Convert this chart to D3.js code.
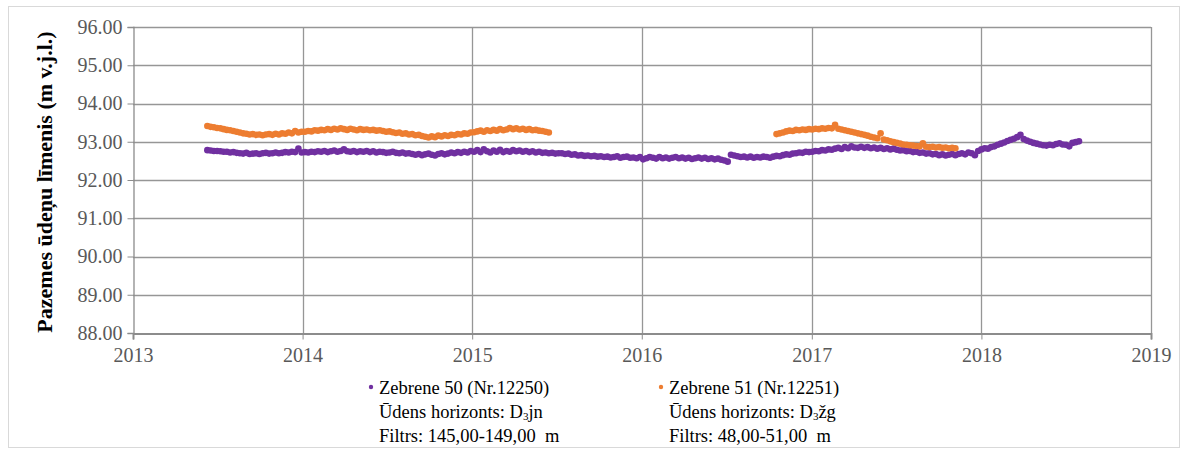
<!DOCTYPE html>
<html>
<head>
<meta charset="utf-8">
<script src="https://cdn.jsdelivr.net/npm/d3@7"></script>
<style>
  html, body { margin: 0; padding: 0; background: #fff; }
  svg { display: block; font-family: 'Liberation Serif', 'Times New Roman', serif; }
  svg text { font-family: 'Liberation Serif', 'Times New Roman', serif; }
</style>
</head>
<body>
<svg id="chart" width="1187" height="450"></svg>
<script>
// Groundwater level observations, weekly readings (m above sea level)
const zebrene50Start = "2013-06-10";
const zebrene50Levels = [
  // 2013
  92.78, 92.77, 92.76, 92.76, 92.75, 92.74, 92.74, 92.72, 92.73, 92.71, 92.70, 92.69, 92.71, 92.68, 92.69,
  92.70, 92.68, 92.70, 92.71, 92.69, 92.70, 92.72, 92.70, 92.71, 92.73, 92.72, 92.74, 92.73, 92.82, 92.72,
  // 2014
  92.73, 92.72, 92.74, 92.73, 92.75, 92.74, 92.76, 92.73, 92.75, 92.77, 92.74, 92.76, 92.80, 92.75, 92.74,
  92.76, 92.73, 92.75, 92.74, 92.76, 92.73, 92.75, 92.72, 92.74, 92.73, 92.71, 92.72, 92.74, 92.71, 92.70,
  92.72, 92.69, 92.70, 92.68, 92.66, 92.68, 92.65, 92.67, 92.69, 92.66, 92.64, 92.68, 92.70, 92.67, 92.69,
  92.72, 92.70, 92.73, 92.71, 92.74, 92.72, 92.76,
  // 2015
  92.74, 92.78, 92.73, 92.80, 92.75, 92.72, 92.77, 92.74, 92.79, 92.73, 92.76, 92.74, 92.78, 92.75, 92.77,
  92.74, 92.76, 92.73, 92.75, 92.72, 92.74, 92.71, 92.72, 92.70, 92.71, 92.69, 92.70, 92.70, 92.68, 92.69,
  92.66, 92.67, 92.64, 92.65, 92.63, 92.64, 92.62, 92.63, 92.61, 92.62, 92.60, 92.61, 92.59, 92.60, 92.62,
  92.58, 92.60, 92.61, 92.58, 92.59, 92.57, 92.60,
  // 2016
  92.54, 92.57, 92.60, 92.58, 92.56, 92.60, 92.57, 92.59, 92.56, 92.58, 92.60, 92.57, 92.59, 92.56, 92.58,
  92.55, 92.57, 92.59, 92.56, 92.58, 92.55, 92.57, 92.54, 92.56, 92.53, 92.51, 92.48, 92.66, 92.64, 92.62,
  92.60, 92.61, 92.59, 92.61, 92.58, 92.60, 92.59, 92.61, 92.60, 92.58, 92.61, 92.63, 92.62, 92.65, 92.67,
  92.66, 92.69, 92.70, 92.72, 92.71, 92.74, 92.73,
  // 2017
  92.74, 92.76, 92.75, 92.78, 92.77, 92.80, 92.79, 92.82, 92.84, 92.81, 92.86, 92.83, 92.88, 92.85, 92.84,
  92.87, 92.84, 92.86, 92.83, 92.85, 92.82, 92.84, 92.81, 92.83, 92.80, 92.82, 92.79, 92.77, 92.78, 92.75,
  92.76, 92.73, 92.74, 92.71, 92.72, 92.69, 92.70, 92.67, 92.68, 92.65, 92.67, 92.64, 92.66, 92.68, 92.65,
  92.68, 92.70, 92.67, 92.72, 92.70, 92.65, 92.76,
  // 2018
  92.80, 92.83, 92.82, 92.86, 92.88, 92.92, 92.95, 92.98, 93.02, 93.05, 93.08, 93.12, 93.18, 93.07, 93.03,
  93.00, 92.97, 92.95, 92.93, 92.91, 92.90, 92.92, 92.91, 92.94, 92.96, 92.93, 92.92, 92.88, 92.97, 92.99,
  93.01
];

const zebrene51StartA = "2013-06-10";
const zebrene51LevelsA = [
  // 2013
  93.41, 93.39, 93.38, 93.36, 93.35, 93.33, 93.31, 93.30, 93.28, 93.26, 93.24, 93.22, 93.21, 93.19, 93.20,
  93.18, 93.19, 93.17, 93.19, 93.20, 93.18, 93.21, 93.19, 93.22, 93.21, 93.24, 93.22, 93.28, 93.24, 93.26,
  // 2014
  93.26, 93.28, 93.27, 93.30, 93.29, 93.31, 93.30, 93.33, 93.31, 93.34, 93.32, 93.35, 93.33, 93.31, 93.34,
  93.32, 93.30, 93.33, 93.31, 93.32, 93.30, 93.31, 93.29, 93.30, 93.28, 93.26, 93.27, 93.25, 93.23, 93.24,
  93.21, 93.22, 93.19, 93.20, 93.17, 93.18, 93.15, 93.13, 93.11, 93.14, 93.12, 93.16, 93.14, 93.17, 93.15,
  93.18, 93.17, 93.20, 93.19, 93.22, 93.21, 93.24,
  // 2015
  93.25, 93.27, 93.29, 93.26, 93.30, 93.28, 93.31, 93.29, 93.33, 93.30, 93.32, 93.36, 93.33, 93.35, 93.32,
  93.34, 93.31, 93.33, 93.30, 93.31, 93.29, 93.28, 93.26, 93.24
];

const zebrene51StartB = "2016-10-17";
const zebrene51LevelsB = [
  93.20, 93.22, 93.24, 93.27, 93.29, 93.28, 93.31, 93.30, 93.32, 93.31, 93.33, 93.32, 93.34, 93.33, 93.35,
  93.34, 93.36, 93.35, 93.44, 93.34, 93.32, 93.30, 93.28, 93.26, 93.24, 93.22, 93.20, 93.18, 93.16, 93.13,
  93.11, 93.09, 93.22, 93.06, 93.04, 93.01, 92.99, 92.97, 92.95, 92.93, 92.92, 92.91, 92.90, 92.89, 92.88,
  92.96, 92.87, 92.86, 92.87, 92.85, 92.86, 92.84, 92.85, 92.83, 92.84, 92.83
];

const yearTicks = [2013, 2014, 2015, 2016, 2017, 2018, 2019];
const levelTicks = [88, 89, 90, 91, 92, 93, 94, 95, 96];

const legendItems = [
  { name: "Zebrene 50 (Nr.12250)", horizon: "jn", filter: "Filtrs: 145,00-149,00  m", color: "#7030A0" },
  { name: "Zebrene 51 (Nr.12251)", horizon: "žg", filter: "Filtrs: 48,00-51,00  m", color: "#ED7D31" }
];

const FONT = "'Liberation Serif', 'Times New Roman', serif";
const svg = d3.select("#chart");
const plot = { left: 133, right: 1151, top: 27, bottom: 333 };

// Outer frame
svg.append("rect")
  .attr("x", 8.5).attr("y", 6.5)
  .attr("width", 1171).attr("height", 441)
  .attr("fill", "none").attr("stroke", "#d9d9d9");

const x = d3.scaleTime()
  .domain([new Date(yearTicks[0], 0, 1), new Date(yearTicks[yearTicks.length - 1], 0, 1)])
  .range([plot.left, plot.right]);
const y = d3.scaleLinear()
  .domain([levelTicks[0], levelTicks[levelTicks.length - 1]])
  .range([plot.bottom, plot.top]);

const gridColor = "#969696";

// Horizontal gridlines
svg.append("g").selectAll("line")
  .data(levelTicks.slice(1))
  .join("line")
  .attr("x1", plot.left).attr("x2", plot.right)
  .attr("y1", d => Math.round(y(d)) + 0.5).attr("y2", d => Math.round(y(d)) + 0.5)
  .attr("stroke", gridColor).attr("stroke-width", 1.3);

// Vertical gridlines
svg.append("g").selectAll("line")
  .data(yearTicks.slice(1))
  .join("line")
  .attr("x1", d => Math.round(x(new Date(d, 0, 1))) + 0.5)
  .attr("x2", d => Math.round(x(new Date(d, 0, 1))) + 0.5)
  .attr("y1", plot.top).attr("y2", plot.bottom)
  .attr("stroke", gridColor).attr("stroke-width", 1.3);

// Y axis
const yAxis = svg.append("g")
  .attr("transform", `translate(${plot.left + 0.5},0)`)
  .call(d3.axisLeft(y).tickValues(levelTicks).tickFormat(d3.format(".2f")).tickSize(6).tickPadding(5));
yAxis.attr("font-family", FONT);
yAxis.select(".domain").attr("stroke", "#8c8c8c").attr("stroke-width", 1.3);
yAxis.selectAll(".tick line").attr("stroke", "#8c8c8c");
yAxis.selectAll("text")
  .style("font-family", FONT)
  .attr("font-size", 20).attr("fill", "#595959");

// X axis
const xAxis = svg.append("g")
  .attr("transform", `translate(0,${plot.bottom + 0.5})`)
  .call(d3.axisBottom(x).tickValues(yearTicks.map(d => new Date(d, 0, 1)))
    .tickFormat(d3.timeFormat("%Y")).tickSize(6).tickPadding(8));
xAxis.attr("font-family", FONT);
xAxis.select(".domain").attr("stroke", "#8c8c8c").attr("stroke-width", 2);
xAxis.selectAll(".tick line").attr("stroke", "#8c8c8c");
xAxis.selectAll("text")
  .style("font-family", FONT)
  .attr("font-size", 20).attr("fill", "#595959");

// Y axis title
svg.append("text")
  .attr("transform", `translate(52,${(plot.top + plot.bottom) / 2 + 2}) rotate(-90)`)
  .attr("text-anchor", "middle")
  .style("font-family", FONT)
  .attr("font-size", 22).attr("font-weight", "bold").attr("fill", "#000")
  .text("Pazemes ūdeņu līmenis (m v.j.l.)");

// Weekly series to points
function toPoints(start, levels) {
  const t0 = d3.timeParse("%Y-%m-%d")(start);
  return levels.map((v, i) => ({ date: d3.timeWeek.offset(t0, i), value: v }));
}

function drawSeries(points, color) {
  svg.append("g").selectAll("circle")
    .data(points)
    .join("circle")
    .attr("cx", d => x(d.date))
    .attr("cy", d => y(d.value))
    .attr("r", 3.3)
    .attr("fill", color);
}

drawSeries(toPoints(zebrene50Start, zebrene50Levels), legendItems[0].color);
drawSeries(toPoints(zebrene51StartA, zebrene51LevelsA), legendItems[1].color);
drawSeries(toPoints(zebrene51StartB, zebrene51LevelsB), legendItems[1].color);

// Legend
const legendX = [371, 661];
const lg = svg.append("g");
legendItems.forEach((item, i) => {
  const g = lg.append("g").attr("transform", `translate(${legendX[i]},0)`);
  g.append("circle").attr("cx", 0).attr("cy", 387).attr("r", 2.2).attr("fill", item.color);
  const t = g.append("text").attr("x", 8).attr("font-size", 18.5).attr("fill", "#000")
    .style("font-family", FONT).style("white-space", "pre");
  t.append("tspan").attr("x", 8).attr("y", 394).text(item.name);
  t.append("tspan").attr("x", 8).attr("y", 418).text("Ūdens horizonts: D");
  t.append("tspan").attr("font-size", 11).attr("dy", 2).text("3");
  t.append("tspan").attr("dy", -2).text(item.horizon);
  t.append("tspan").attr("x", 8).attr("y", 442).text(item.filter);
});
</script>
</body>
</html>
